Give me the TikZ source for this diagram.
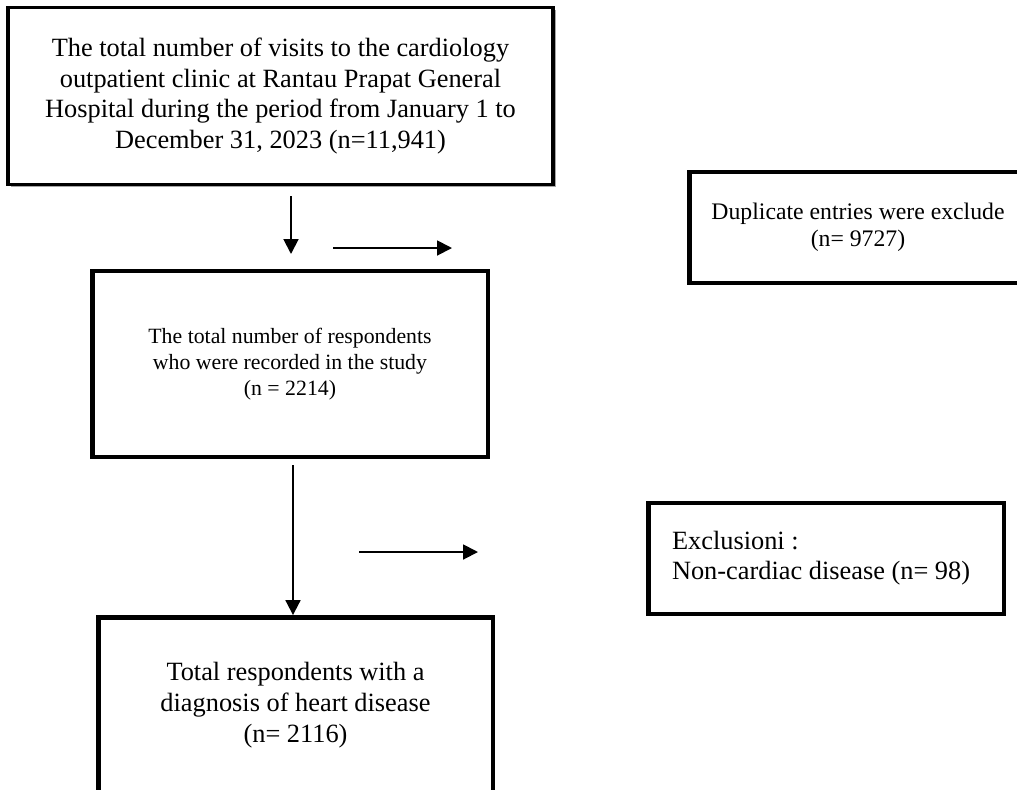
\documentclass[tikz,border=0pt]{standalone}
\usepackage{fontspec}
\setmainfont{Liberation Serif}
\usetikzlibrary{arrows.meta,shadows}

\tikzset{
	box/.style={draw, line width=2.8pt, align=center, inner sep=0pt},
	arr/.style={line width=1.1pt, -{Triangle[length=8.5pt,width=8.5pt]}}
}

\begin{document}
\begin{tikzpicture}[x=0.02cm, y=-0.02cm]
	
	\useasboundingbox (0,0) rectangle (1017,789);
	\clip (0,0) rectangle (1017,789);
	
	\node[box, line width=1.8pt, fill=white, drop shadow={shadow xshift=1.6pt, shadow yshift=-1.6pt, fill=gray!70, opacity=1},
		minimum width=10.9cm, minimum height=3.54cm, font=\fontsize{15}{17.6}\selectfont] (visits) at (280.5,96)
		{The total number of visits to the cardiology\\ outpatient clinic at Rantau Prapat General\\ Hospital during the period from January 1 to\\ December 31, 2023 (n=11,941)};
	
	\node[box, minimum width=7.92cm, minimum height=3.72cm, font=\fontsize{12.4}{14.9}\selectfont] (recorded) at (290,364)
		{The total number of respondents\\ who were recorded in the study\\ (n = 2214)};
	
	\node[box, minimum width=6.76cm, minimum height=2.22cm, font=\fontsize{13.5}{15.6}\selectfont] (duplicate) at (858,227.5)
		{Duplicate entries were exclude\\ (n= 9727)};
	
	\node[box, align=flush left, text width=6.16cm, inner xsep=0.48cm, minimum height=2.22cm, font=\fontsize{15}{17}\selectfont] (exclusion) at (826,558.5)
		{Exclusioni :\\ Non-cardiac disease (n= 98)};
	
	\node[box, minimum width=7.9cm, minimum height=3.5cm, font=\fontsize{15}{17.6}\selectfont] (total) at (295.5,705)
		{Total respondents with a\\ diagnosis of heart disease\\ (n= 2116)};
	
	\coordinate (a1s) at (291,196);
	\coordinate (a1e) at (291,254);
	\coordinate (a2s) at (333,248);
	\coordinate (a2e) at (452,248);
	\coordinate (a3s) at (293,465);
	\coordinate (a4s) at (359,552);
	\coordinate (a4e) at (478,552);
	
	\draw[arr] (a1s) -- (a1e);
	\draw[arr] (a2s) -- (a2e);
	\draw[arr] (a3s) -- (a3s |- total.north);
	\draw[arr] (a4s) -- (a4e);
	
\end{tikzpicture}
\end{document}
